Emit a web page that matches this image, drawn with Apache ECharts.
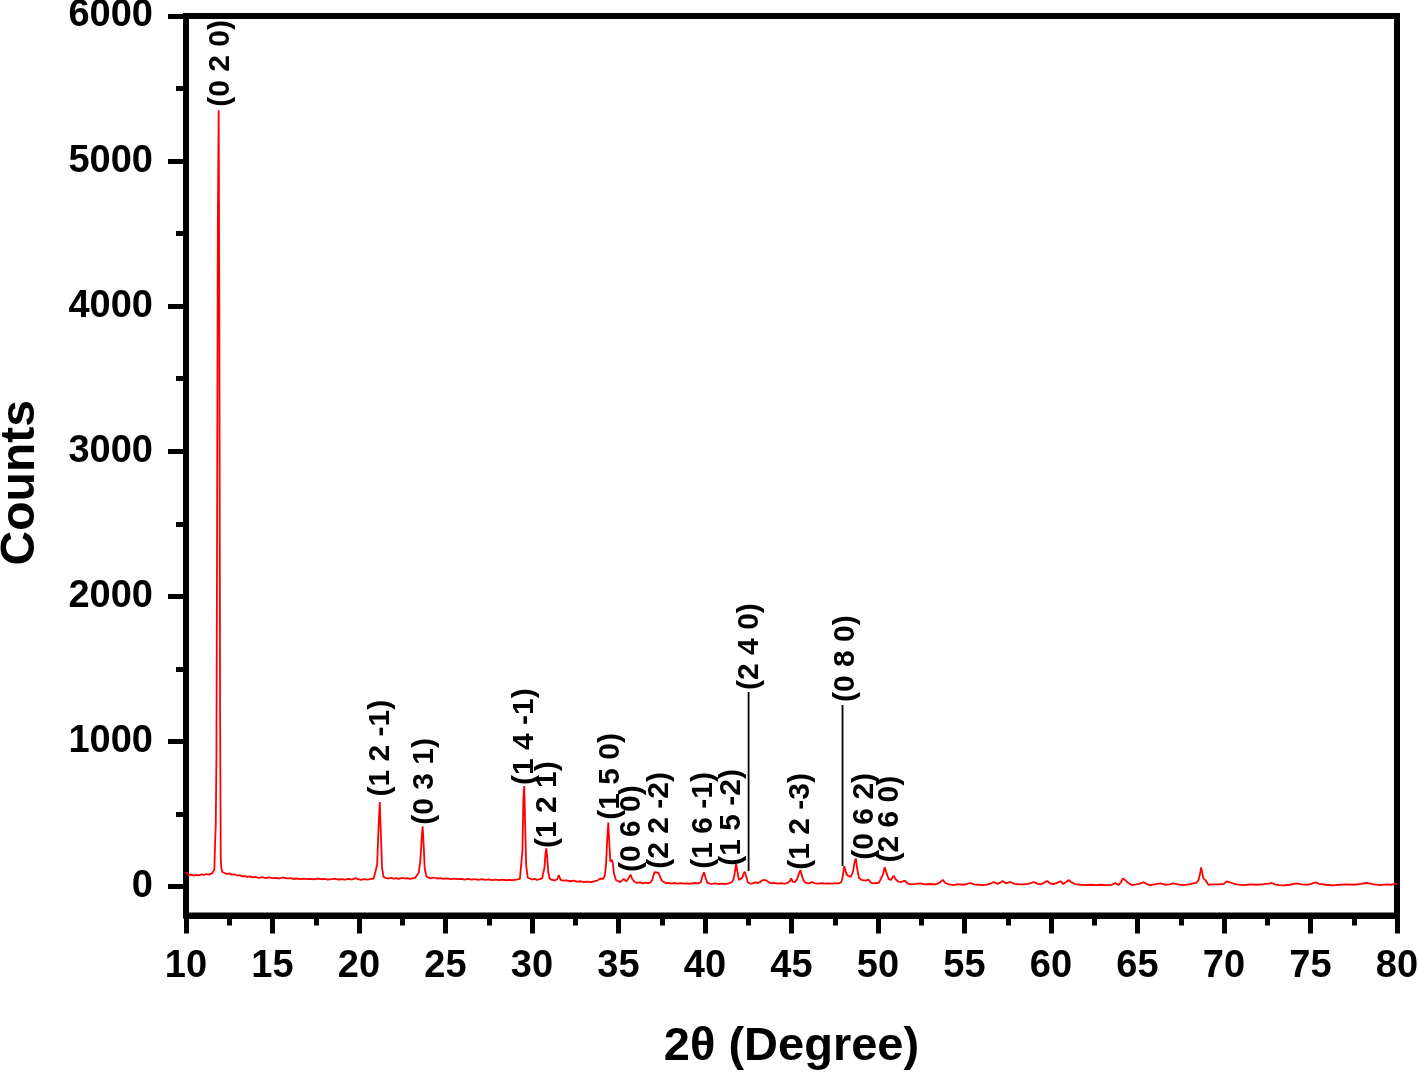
<!DOCTYPE html>
<html>
<head>
<meta charset="utf-8">
<script src="https://cdn.jsdelivr.net/npm/echarts@6/dist/echarts.min.js"></script>
<style>
html,body{margin:0;padding:0;background:#fff;}
#chart{width:1418px;height:1072px;}
</style>
</head>
<body>
<div id="chart"></div>
<script>
// ---- Data ----
const twoTheta = [10.00,10.05,10.15,10.3,10.45,10.6,10.75,10.9,11.05,11.2,11.35,11.5,11.6,
11.64,11.68,11.72,11.76,11.80,11.84,11.89,11.93,11.97,12.01,12.05,12.1,
12.2,12.35,12.5,12.65,12.8,12.95,13.1,13.25,13.4,13.55,13.7,13.85,14.0,14.2,14.4,14.6,14.8,15.0,15.2,15.4,15.6,15.8,16.0,16.2,16.4,16.6,16.8,17.0,17.2,17.4,17.6,17.8,18.0,18.2,18.4,18.6,18.8,19.0,19.2,19.4,19.6,19.8,19.95,20.1,20.3,20.5,20.7,20.85,
20.95,21.05,21.12,21.2,21.27,21.33,21.42,
21.55,21.7,21.85,22.0,22.15,22.3,22.5,22.65,22.8,22.95,23.1,23.25,23.35,
23.45,23.55,23.62,23.68,23.74,23.8,23.9,
24.0,24.15,24.3,24.5,24.7,24.9,25.1,25.3,25.5,25.7,25.9,26.1,26.3,26.5,26.7,26.9,27.1,27.3,27.5,27.7,27.9,28.1,28.3,28.5,28.7,28.9,29.1,29.3,
29.38,29.45,29.5,29.55,29.6,29.66,29.75,
29.85,30.0,30.15,30.3,30.45,30.58,
30.66,30.72,30.78,30.83,30.88,30.94,31.02,
31.15,31.3,31.45,31.55,31.65,31.8,32.0,32.2,32.4,32.6,32.8,33.0,33.2,33.4,33.6,33.8,33.95,
34.1,34.2,34.28,34.35,34.41,34.47,34.53,34.6,34.66,34.74,34.85,
34.95,35.1,35.2,35.3,35.45,35.6,35.7,35.8,35.95,36.1,36.25,36.4,36.55,36.7,36.85,
36.95,37.02,37.08,37.18,37.3,37.4,37.5,37.6,
37.75,37.9,38.05,38.2,38.4,38.6,38.8,39.0,39.2,39.4,39.6,39.75,
39.85,39.94,40.02,40.12,
40.25,40.4,40.6,40.8,41.0,41.2,41.4,41.55,
41.65,41.72,41.8,41.88,41.96,42.05,42.15,42.22,42.3,42.38,42.47,
42.6,42.75,42.9,43.05,43.2,43.35,43.45,43.55,43.7,43.85,44.0,44.2,44.4,44.6,44.78,
44.9,44.98,45.08,45.2,45.32,45.42,45.52,45.6,45.7,45.82,
46.0,46.2,46.35,46.55,46.75,46.95,47.15,47.35,47.55,47.75,47.88,
47.95,48.05,48.12,48.2,48.3,48.42,48.55,48.65,48.72,48.8,48.9,49.05,49.15,49.3,49.45,49.6,49.75,49.9,50.05,
50.15,50.28,50.39,50.5,50.62,50.75,50.9,51.02,51.15,51.3,51.45,51.57,51.7,
51.9,52.15,52.45,52.7,53.0,53.3,53.55,53.74,53.9,54.1,54.36,54.6,54.9,55.15,55.34,55.55,55.8,56.1,56.35,56.5,56.69,56.9,57.05,57.2,57.4,57.65,57.9,58.15,58.4,58.7,59.0,59.2,59.38,59.6,59.77,59.95,60.13,60.35,60.54,60.71,60.85,61.02,61.2,61.4,61.7,62.0,62.3,62.6,62.9,63.2,63.5,63.71,63.9,64.05,64.16,64.28,64.39,64.55,64.67,64.9,65.1,65.35,65.55,65.73,66.0,66.31,66.6,66.85,67.06,67.35,67.64,67.95,68.22,68.4,68.53,68.62,68.68,68.75,68.81,68.87,68.95,69.1,69.4,69.78,70.0,70.15,70.26,70.45,70.7,71.12,71.5,71.9,72.3,72.6,72.76,72.95,73.2,73.43,73.8,74.2,74.5,74.85,75.1,75.27,75.5,75.9,76.32,76.7,77.1,77.5,77.9,78.25,78.6,79.02,79.4,79.7,80.0];

const counts = [100,88,78,82,75,80,77,84,80,86,82,90,100,
115,300,420,900,2600,4600,5350,3800,1200,180,120,100,
92,86,90,82,84,76,78,70,72,66,70,63,66,60,64,58,62,57,60,55,62,56,58,52,55,50,54,50,53,49,55,50,52,47,50,54,48,50,47,52,48,58,50,46,50,47,52,55,
62,150,380,582,350,130,66,
58,55,60,54,57,52,60,55,58,52,56,60,72,
95,180,330,415,280,120,68,
60,56,62,55,58,52,56,50,54,50,53,48,52,47,51,46,50,45,49,44,48,44,47,43,46,44,48,52,
62,250,600,692,450,150,62,
52,48,52,46,50,55,
62,130,230,263,200,100,55,
45,42,48,78,46,40,42,36,40,33,36,30,34,30,36,42,55,
52,70,150,330,440,300,170,185,170,90,45,
35,30,38,52,35,60,82,50,30,25,28,22,26,22,28,
45,75,98,85,95,70,40,28,
22,25,20,24,20,23,19,22,20,24,21,28,
70,98,65,28,
20,18,22,17,20,18,22,30,
50,95,155,100,45,38,60,85,102,70,30,
20,22,28,24,32,45,38,42,28,22,25,20,23,20,25,
38,55,32,30,50,85,112,75,40,25,
22,30,22,20,23,19,22,20,23,22,30,
60,140,110,80,70,65,100,170,193,120,60,45,55,40,48,25,22,24,25,
35,80,132,90,50,45,75,50,35,30,36,38,22,
15,18,22,14,17,14,25,45,24,14,10,16,12,18,24,14,12,10,15,20,31,18,25,38,22,31,18,14,15,18,31,20,15,25,38,22,17,25,36,17,28,45,28,17,12,10,12,9,12,9,11,24,10,30,56,45,31,18,10,14,18,29,16,10,14,21,12,15,21,14,10,14,21,25,45,90,132,90,56,62,40,12,14,15,18,35,45,24,14,10,14,12,16,20,24,15,10,7,12,21,14,12,20,29,18,12,8,12,14,12,18,24,16,10,14,12,21];

// reflection labels (hkl), their 2θ and the count level where each label starts
const hklText = ['(0 2 0)','(1 2 -1)','(0 3 1)','(1 4 -1)','(1 2 1)','(1 5 0)','(0 6 0)','(2 2 -2)','(1 6 -1)','(1 5 -2)','(2 4 0)','(1 2 -3)','(0 8 0)','(0 6 2)','(2 6 0)'];
const hklX    = [12.02,21.26,23.82,29.58,30.93,34.55,35.76,37.40,39.92,41.54,42.58,45.52,48.12,49.22,50.66];
const hklY    = [5375,620,425,700,265,460,100,122,122,143,1355,116,1272,185,165];

// drop lines for (2 4 0) and (0 8 0)
const line240 = [[42.52,107],[42.52,1341]];
const line080 = [[47.95,141],[47.95,1251]];

const yTicks = [0,1000,2000,3000,4000,5000,6000];
const yMinorTicks = [500,1500,2500,3500,4500,5500];

// ---- Chart ----
const spectrum = twoTheta.map((x,i)=>[x,counts[i]]);
const hklData = hklText.map((t,i)=>({name:t,value:[hklX[i],hklY[i]]}));

const FONT = '"Liberation Sans", Arial, Helvetica, sans-serif';
const chart = echarts.init(document.getElementById('chart'), null, {renderer:'canvas'});

chart.setOption({
  animation:false,
  backgroundColor:'#fff',
  grid:{left:186,right:21,top:16,bottom:156.5,outerBoundsMode:'none',containLabel:false,
        show:true,borderColor:'#000',borderWidth:6,backgroundColor:'#fff'},
  xAxis:{
    type:'value',min:10,max:80,interval:5,
    name:'2θ (Degree)',nameLocation:'middle',nameGap:108,
    nameTextStyle:{fontFamily:FONT,fontWeight:'bold',fontSize:47,color:'#000'},
    axisLine:{show:true,onZero:false,lineStyle:{color:'#000',width:6}},
    axisTick:{show:true,inside:false,length:18,lineStyle:{color:'#000',width:5}},
    minorTick:{show:true,splitNumber:2,length:10,lineStyle:{color:'#000',width:5}},
    axisLabel:{margin:32,fontFamily:FONT,fontWeight:'bold',fontSize:38,color:'#000',formatter:v=>String(v)},
    splitLine:{show:false},minorSplitLine:{show:false}
  },
  yAxis:[{
    type:'value',min:-200,max:6000,
    name:'Counts',nameLocation:'middle',nameGap:141,
    nameTextStyle:{fontFamily:FONT,fontWeight:'bold',fontSize:48,color:'#000',padding:[0,34,0,0]},
    axisLine:{show:true,onZero:false,lineStyle:{color:'#000',width:6}},
    axisTick:{show:true,inside:false,length:18,customValues:yTicks,lineStyle:{color:'#000',width:5}},
    axisLabel:{margin:33,customValues:yTicks,fontFamily:FONT,fontWeight:'bold',fontSize:38,color:'#000',formatter:v=>String(v)},
    splitLine:{show:false}
  },{
    type:'value',min:-200,max:6000,position:'left',
    axisLine:{show:false},
    axisTick:{show:true,inside:false,length:10,customValues:yMinorTicks,lineStyle:{color:'#000',width:5}},
    axisLabel:{show:false},
    splitLine:{show:false}
  }],
  series:[
    {type:'line',data:spectrum,symbol:'none',smooth:false,lineStyle:{color:'#ff0000',width:1.8},z:3},
    {type:'line',data:line240,symbol:'none',lineStyle:{color:'#000',width:1.8},z:4},
    {type:'line',data:line080,symbol:'none',lineStyle:{color:'#000',width:1.8},z:4},
    {type:'scatter',data:hklData,symbolSize:1,itemStyle:{color:'rgba(0,0,0,0)'},z:5,
      labelLayout:{hideOverlap:false},
      label:{show:true,position:'inside',formatter:p=>p.name,rotate:90,align:'left',verticalAlign:'middle',
        fontFamily:FONT,fontWeight:'bold',fontSize:30,color:'#000',textBorderWidth:0,textBorderColor:'transparent',opacity:1}}
  ]
});
</script>
</body>
</html>
